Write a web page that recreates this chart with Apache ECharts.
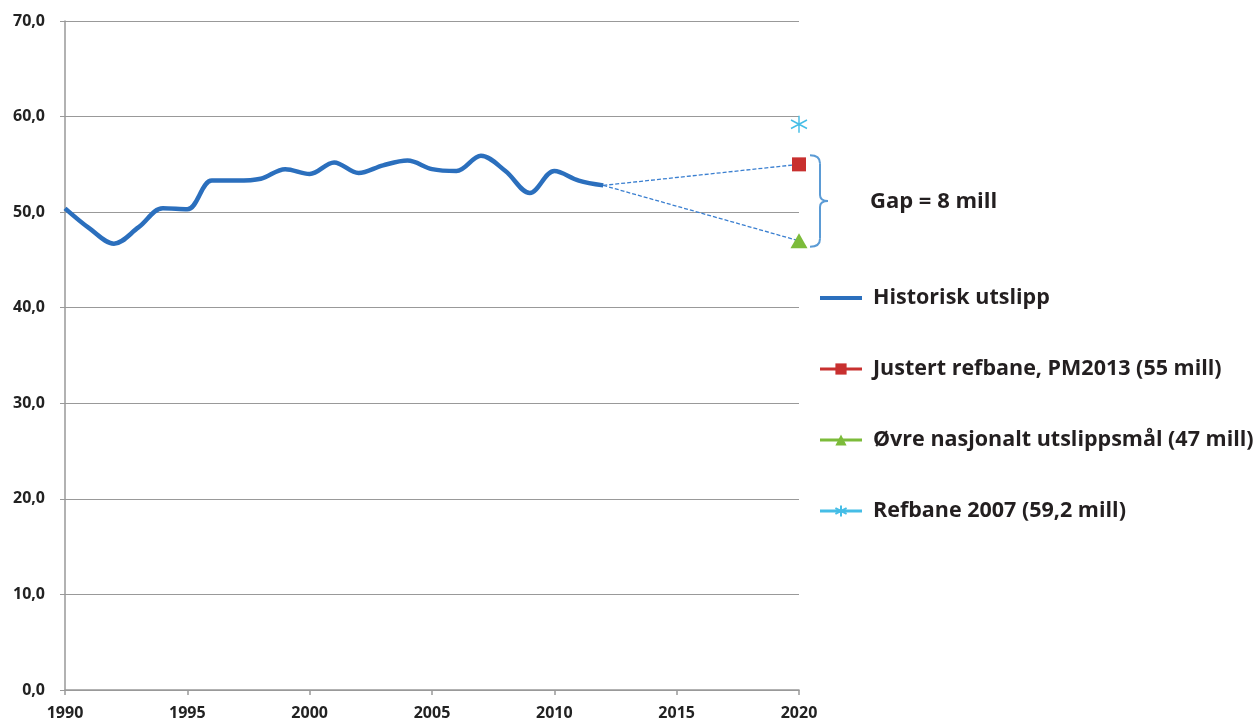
<!DOCTYPE html>
<html>
<head>
<meta charset="utf-8">
<script src="https://cdn.jsdelivr.net/npm/echarts@6/dist/echarts.min.js"></script>
<style>
  html, body { margin: 0; padding: 0; background: #fff; }
  #chart { width: 1259px; height: 724px; }
</style>
</head>
<body>
<div id="chart"></div>
<script>
// historical emissions, mill. tonn CO2-ekv.
const histYears = [1990, 1991, 1992, 1993, 1994, 1995, 1996, 1997, 1998, 1999, 2000, 2001,
  2002, 2003, 2004, 2005, 2006, 2007, 2008, 2009, 2010, 2011, 2012]
const histValues = [50.4, 48.3, 46.7, 48.4, 50.4, 50.3, 53.3, 53.3, 53.5, 54.5, 54.0, 55.2,
  54.1, 54.9, 55.4, 54.5, 54.3, 55.9, 54.3, 52.0, 54.3, 53.3, 52.8]

const targetYear = 2020
const justertValue = 55      // Justert refbane, PM2013
const ovreValue = 47         // Øvre nasjonalt utslippsmål
const refbane2007Value = 59.2

const seriesNames = [
  'Historisk utslipp',
  'Justert refbane, PM2013 (55 mill)',
  'Øvre nasjonalt utslippsmål (47 mill)',
  'Refbane 2007 (59,2 mill)'
]
const gapLabel = 'Gap = 8 mill'

const FONT = '"Open Sans", "Noto Sans", sans-serif'
const lastHist = [histYears[histYears.length - 1], histValues[histValues.length - 1]]

const chart = echarts.init(document.getElementById('chart'))

const option = {
  animation: false,
  textStyle: { fontFamily: FONT },
  grid: { left: 65, right: 460, top: 21, bottom: 34 },
  xAxis: {
    type: 'value',
    min: 1990,
    max: 2020,
    interval: 5,
    axisLine: { lineStyle: { color: '#999', width: 1.5 } },
    axisTick: { show: true, length: 5, lineStyle: { color: '#999', width: 1.5 } },
    axisLabel: {
      color: '#222', fontSize: 16, fontWeight: 'bold', margin: 15,
      formatter: v => String(v)
    },
    splitLine: { show: false }
  },
  yAxis: {
    type: 'value',
    min: 0,
    max: 70,
    interval: 10,
    axisLine: { show: true, lineStyle: { color: '#999', width: 1.5 } },
    axisTick: { show: true, length: 5, lineStyle: { color: '#999', width: 1 } },
    axisLabel: {
      color: '#222', fontSize: 16, fontWeight: 'bold', margin: 20,
      formatter: v => v.toFixed(1).replace('.', ',')
    },
    splitLine: { lineStyle: { color: '#999', width: 1 } }
  },
  legend: {
    orient: 'vertical',
    left: 813,
    top: 282,
    itemWidth: 42,
    itemHeight: 14,
    itemGap: 49,
    selectedMode: false,
    textStyle: {
      fontFamily: FONT, fontSize: 21.5, fontWeight: 'bold', color: '#231f20',
      padding: [0, 0, 0, 6], lineHeight: 21
    },
    data: [
      { name: seriesNames[0], itemStyle: { opacity: 0 }, lineStyle: { width: 4 } },
      { name: seriesNames[1], lineStyle: { width: 3 } },
      { name: seriesNames[2], lineStyle: { width: 3 } },
      { name: seriesNames[3], lineStyle: { width: 3 } }
    ]
  },
  series: [
    {
      name: seriesNames[0],
      type: 'line',
      data: histYears.map((y, i) => [y, histValues[i]]),
      smooth: 0.35,
      symbol: 'none',
      lineStyle: { color: '#2b6fbd', width: 4.5 },
      itemStyle: { color: '#2b6fbd' },
      z: 3
    },
    {
      // dashed connector towards the adjusted baseline
      type: 'line',
      data: [lastHist, [targetYear, justertValue]],
      symbol: 'none',
      lineStyle: { color: '#3a7fd0', width: 1.3, type: [4, 2] },
      z: 2
    },
    {
      type: 'line',
      data: [lastHist, [targetYear, ovreValue]],
      symbol: 'none',
      lineStyle: { color: '#3a7fd0', width: 1.3, type: [4, 2] },
      z: 2
    },
    {
      name: seriesNames[1],
      type: 'line',
      data: [[targetYear, justertValue]],
      symbol: 'rect',
      symbolSize: 14,
      lineStyle: { color: '#c8302f', width: 3 },
      itemStyle: { color: '#c8302f' },
      z: 4
    },
    {
      name: seriesNames[2],
      type: 'line',
      data: [[targetYear, ovreValue]],
      symbol: 'triangle',
      symbolSize: [17, 15],
      lineStyle: { color: '#7cbb3a', width: 3 },
      itemStyle: { color: '#7cbb3a' },
      z: 4
    },
    {
      name: seriesNames[3],
      type: 'line',
      data: [[targetYear, refbane2007Value]],
      symbol: 'path://M0,-10L0,10M-8,-5L8,5M-8,5L8,-5',
      symbolSize: [16, 17],
      lineStyle: { color: '#45bde6', width: 3 },
      itemStyle: { color: 'rgba(0,0,0,0)', borderColor: '#45bde6', borderWidth: 1.5 },
      z: 4
    }
  ]
}

chart.setOption(option)

// brace + gap label next to the 2020 points
function drawBrace() {
  const top = chart.convertToPixel({ gridIndex: 0 }, [targetYear, justertValue])
  const bot = chart.convertToPixel({ gridIndex: 0 }, [targetYear, ovreValue])
  const x0 = top[0] + 11
  const x1 = x0 + 10
  const x2 = x1 + 8
  const yT = top[1] - 9
  const yB = bot[1] + 6
  const yM = (yT + yB) / 2
  const braceStyle = { stroke: '#5b9bd5', lineWidth: 2, fill: null }
  const curve = (ax, ay, cx, cy, bx, by) => ({
    type: 'bezierCurve',
    shape: { x1: ax, y1: ay, cpx1: cx, cpy1: cy, x2: bx, y2: by },
    style: braceStyle
  })
  const seg = (ax, ay, bx, by) => ({
    type: 'line',
    shape: { x1: ax, y1: ay, x2: bx, y2: by },
    style: braceStyle
  })
  chart.setOption({
    graphic: [
      curve(x0, yT, x1, yT, x1, yT + 8),
      seg(x1, yT + 8, x1, yM - 6),
      curve(x1, yM - 6, x1, yM, x2, yM),
      curve(x2, yM, x1, yM, x1, yM + 6),
      seg(x1, yM + 6, x1, yB - 8),
      curve(x1, yB - 8, x1, yB, x0, yB),
      {
        type: 'text',
        x: 870,
        y: yM + 1,
        style: {
          text: gapLabel,
          font: `bold 22px ${FONT}`,
          fill: '#231f20',
          verticalAlign: 'middle'
        }
      }
    ]
  })
}
drawBrace()
</script>
</body>
</html>
